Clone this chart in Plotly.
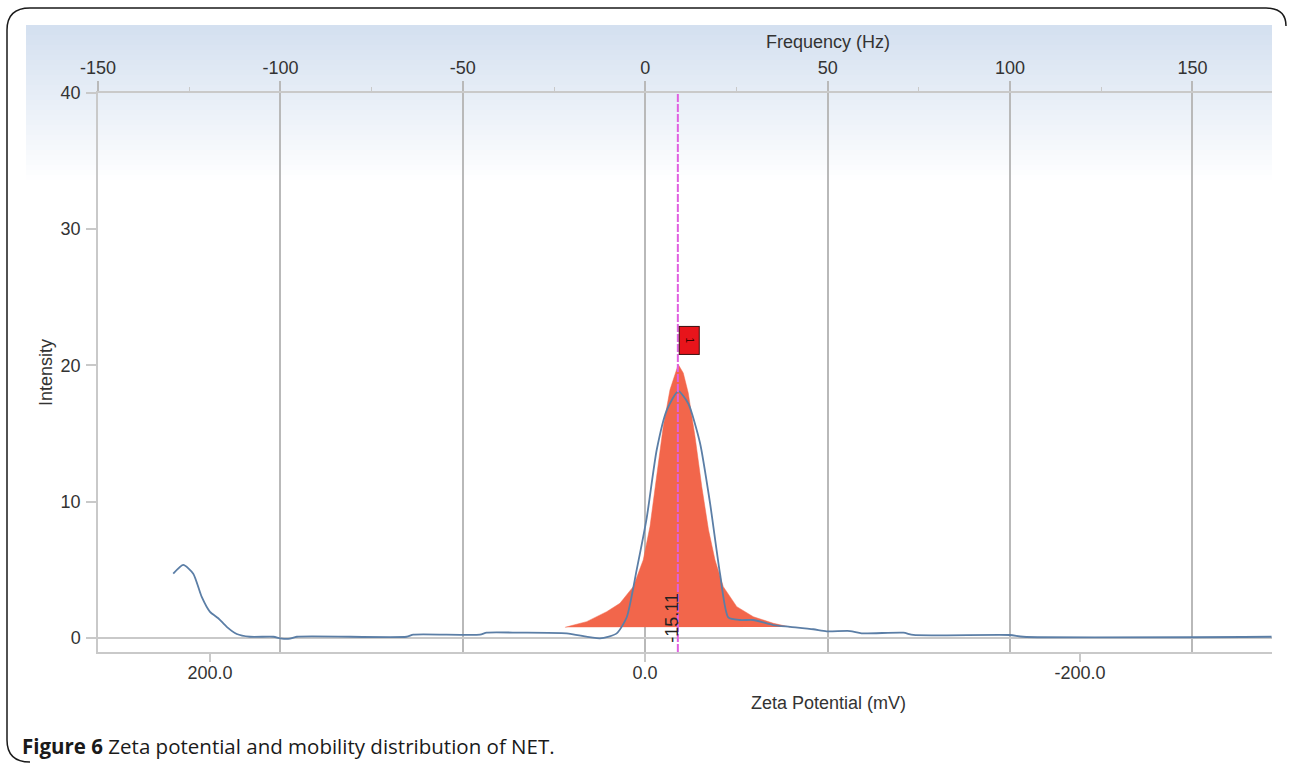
import plotly.graph_objects as go

# ---------------- data ----------------
# measured zeta potential distribution (blue line)
zeta_mv = [216.9, 212.3, 207.7, 203.8, 200.0, 196.2, 192.3, 187.7, 181.6, 170.9,
           167.0, 163.2, 160.1, 109.6, 106.5, 75.9, 72.8, 57.5, 36.0, 20.7,
           13.0, 8.4, 3.8, -0.8, -5.4, -10.0, -15.3, -19.9, -25.3, -29.9,
           -34.5, -38.3, -43.7, -49.8, -59.0, -66.7, -77.4, -83.5, -94.3, -99.6,
           -118.8, -123.4, -167.8, -173.9, -288.1]
intensity = [4.7, 5.35, 4.7, 3.0, 1.9, 1.43, 0.8, 0.27, 0.07, 0.07,
             -0.07, -0.07, 0.07, 0.07, 0.22, 0.22, 0.37, 0.37, 0.32, -0.05,
             0.32, 1.5, 5.0, 8.8, 13.8, 16.7, 18.1, 17.2, 14.3, 9.9,
             4.7, 1.5, 1.3, 1.3, 0.93, 0.8, 0.62, 0.47, 0.49, 0.32,
             0.37, 0.2, 0.2, 0.07, 0.07]

# fitted peak 1 (red area)
peak_mv = [36.8, 26.8, 17.6, 11.5, 5.4, 0.8, -2.3, -5.4, -8.4, -11.5,
           -13.8, -15.3, -17.6, -19.9, -23.0, -26.1, -29.2, -32.2, -36.0, -42.2,
           -49.8, -59.0, -66.7]
peak_int = [0.76, 1.18, 1.91, 2.53, 3.75, 5.71, 8.16, 11.84, 15.51, 18.21,
            19.44, 20.06, 19.44, 17.97, 14.78, 11.10, 7.92, 5.71, 3.75, 2.28,
            1.54, 1.06, 0.78]

peak_position = -15.11
peak_label = "-15.11"
peak_id = "1"

zeta_ticks = [200, 0, -200]
zeta_ticklabels = ["200.0", "0.0", "-200.0"]
freq_ticks = [-150, -100, -50, 0, 50, 100, 150]
freq_ticklabels = ["-150", "-100", "-50", "0", "50", "100", "150"]
int_ticks = [0, 10, 20, 30, 40]

caption = "<b>Figure 6</b> Zeta potential and mobility distribution of NET."

# ---------------- layout helpers ----------------
W, H = 1289, 765
L, R, T, B = 98, 1272, 93, 652


def pxx(x):
    return (x - L) / (R - L)


def pxy(y):
    return (B - y) / (B - T)


FONT = "Liberation Sans"
TXT = "#333333"
GRID = "#b9b9b9"
AX = "#c9c9c9"

fig = go.Figure()

fig.add_trace(go.Scatter(
    x=peak_mv, y=peak_int, mode="lines", fill="toself",
    fillcolor="#f2664b", line=dict(color="#f2664b", width=0.5),
    hoverinfo="skip", showlegend=False))

fig.add_trace(go.Scatter(
    x=zeta_mv, y=intensity, mode="lines",
    line=dict(color="#5b7ea6", width=1.8, shape="spline", smoothing=0.6),
    showlegend=False))

# invisible trace to carry the frequency axis
fig.add_trace(go.Scatter(x=[0], y=[-50], xaxis="x2", mode="markers",
                         marker=dict(opacity=0), hoverinfo="skip",
                         showlegend=False))

shapes = []
# gradient band at the top
n = 32
c0 = (212, 224, 240)
for i in range(n):
    t = i / (n - 1)
    c = tuple(int(round(c0[k] + (255 - c0[k]) * t)) for k in range(3))
    y0 = 25 + i * 5
    shapes.append(dict(type="rect", xref="paper", yref="paper",
                       x0=pxx(26), x1=pxx(1272), y0=pxy(y0 + 5.5), y1=pxy(y0),
                       fillcolor="rgb(%d,%d,%d)" % c, line=dict(width=0),
                       layer="below"))


# outer frame (left/top with rounded corners)
def P(x, y):
    return "%.5f,%.5f" % (pxx(x), pxy(y))


frame = ("M " + P(30, 762) + " Q " + P(7, 762) + " " + P(7, 740) +
         " L " + P(7, 30) + " Q " + P(7, 8) + " " + P(30, 8) +
         " L " + P(1266, 8) + " Q " + P(1286, 8) + " " + P(1286, 26))
shapes.append(dict(type="path", xref="paper", yref="paper", path=frame,
                   line=dict(color="#1a1a1a", width=1.5), layer="above"))

# peak position marker line
shapes.append(dict(type="line", xref="x", yref="paper",
                   x0=peak_position, x1=peak_position, y0=0, y1=1,
                   line=dict(color="#e060e0", width=2, dash="8px,2px"),
                   layer="above"))

annotations = [
    dict(text="Frequency (Hz)", xref="paper", yref="paper",
         x=pxx(828), y=pxy(42), showarrow=False,
         font=dict(family=FONT, size=18, color=TXT),
         xanchor="center", yanchor="middle"),
    dict(text="Zeta Potential (mV)", xref="paper", yref="paper",
         x=pxx(828), y=pxy(703), showarrow=False,
         font=dict(family=FONT, size=18, color=TXT),
         xanchor="center", yanchor="middle"),
    dict(text="Intensity", xref="paper", yref="paper",
         x=pxx(46), y=pxy(373), showarrow=False, textangle=-90,
         font=dict(family=FONT, size=18, color=TXT),
         xanchor="center", yanchor="middle"),
    dict(text=peak_label, xref="x", yref="y", x=-12.3, y=1.45,
         showarrow=False, textangle=-90,
         font=dict(family=FONT, size=18, color="#222222"),
         xanchor="center", yanchor="middle"),
    dict(text=peak_id, xref="x", yref="y", x=-20.2, y=21.8,
         showarrow=False, textangle=90,
         font=dict(family=FONT, size=10, color="#3a0000"),
         bgcolor="#e8141b", bordercolor="#3a1010", borderwidth=1,
         borderpad=0, width=27, height=19,
         xanchor="center", yanchor="middle"),
    dict(text=caption, xref="paper", yref="paper",
         x=pxx(20), y=pxy(746), showarrow=False,
         font=dict(family="Open Sans", size=20.5, color="#1a1a1a"),
         xanchor="left", yanchor="middle"),
]

fig.update_layout(
    width=W, height=H,
    margin=dict(l=L, r=W - R, t=T, b=H - B, pad=0),
    paper_bgcolor="white", plot_bgcolor="rgba(0,0,0,0)",
    showlegend=False,
    xaxis=dict(range=[251.5, -288.3], tickvals=zeta_ticks,
               ticktext=zeta_ticklabels, ticks="outside", ticklen=8,
               tickwidth=1.5, tickcolor=AX, showgrid=False, zeroline=False,
               showline=True, linecolor=AX, linewidth=1.5,
               ticklabelstandoff=-4,
               tickfont=dict(family=FONT, size=18, color=TXT)),
    xaxis2=dict(range=[-150, 171.8], overlaying="x", side="top", anchor="y",
                tickvals=freq_ticks, ticktext=freq_ticklabels,
                ticks="outside", ticklen=10,
                tickwidth=1.5, tickcolor=GRID,
                minor=dict(ticks="outside", ticklen=4, tickwidth=1,
                           tickcolor=AX, dtick=25, tick0=-150),
                showgrid=True, gridcolor=GRID, gridwidth=1.5,
                zeroline=False, showline=True, linecolor=AX, linewidth=1.5,
                tickfont=dict(family=FONT, size=18, color=TXT)),
    yaxis=dict(range=[-1.05, 40], tickvals=int_ticks, ticks="outside",
               ticklen=10, tickwidth=1.5, tickcolor=AX, showgrid=False,
               zeroline=True, zerolinecolor=AX, zerolinewidth=1.5,
               showline=True, linecolor=AX, linewidth=1.5,
               ticklabelstandoff=2,
               tickfont=dict(family=FONT, size=18, color=TXT)),
    shapes=shapes,
    annotations=annotations,
)

fig.write_html("out.html",
               config={"displayModeBar": False},
               post_script="document.body.style.margin='0px';"
                           "document.body.style.padding='0px';")
